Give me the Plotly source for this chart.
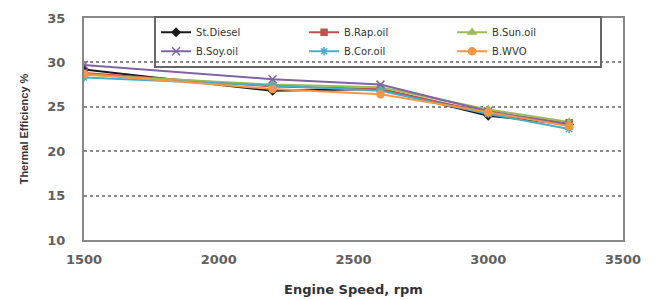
import plotly.graph_objects as go

speed = [1500, 2200, 2600, 3000, 3300]
st_diesel = [29.2, 26.8, 27.0, 24.0, 23.0]
b_rap = [28.8, 27.3, 27.0, 24.3, 23.2]
b_sun = [28.6, 27.5, 27.2, 24.7, 23.3]
b_soy = [29.7, 28.1, 27.5, 24.5, 23.0]
b_cor = [28.3, 27.4, 26.8, 24.2, 22.5]
b_wvo = [28.7, 27.0, 26.4, 24.4, 22.8]

series = [
    ("St.Diesel", st_diesel, "#1a1a1a", "diamond", 6),
    ("B.Rap.oil", b_rap, "#C0504D", "square", 6),
    ("B.Sun.oil", b_sun, "#9BBB59", "triangle-up", 7),
    ("B.Soy.oil", b_soy, "#8064A2", "x-thin-open", 8),
    ("B.Cor.oil", b_cor, "#4BACC6", "asterisk-open", 7),
    ("B.WVO", b_wvo, "#F79646", "circle", 7),
]

fig = go.Figure()
for name, vals, color, sym, size in series:
    fig.add_trace(go.Scatter(
        x=speed, y=vals, name=name, mode="lines+markers",
        line=dict(color=color, width=2),
        marker=dict(symbol=sym, size=size, color=color,
                    line=dict(color=color, width=1.5)),
    ))

tick_font = dict(family="DejaVu Sans", size=13, color="#606060", weight="bold")

fig.update_layout(
    width=656, height=300,
    margin=dict(l=76, r=41, t=8, b=68),
    paper_bgcolor="white", plot_bgcolor="white",
    font=dict(family="DejaVu Sans", color="#333333"),
    showlegend=True,
    legend=dict(
        orientation="h", x=0.13, y=1.01, xanchor="left", yanchor="top",
        bgcolor="rgba(255,255,255,0)", bordercolor="#666666", borderwidth=2,
        entrywidth=103, entrywidthmode="pixels",
        font=dict(family="DejaVu Sans", size=10, color="#333333"),
        tracegroupgap=0,
    ),
    xaxis=dict(
        range=[1500, 3500], dtick=500, tick0=1500,
        showgrid=False, zeroline=False, automargin=False,
        showline=True, linecolor="#888888", linewidth=2, mirror=True,
        ticks="", ticklabelstandoff=6, ticklabeloverflow="allow",
        tickfont=tick_font,
        title=dict(text="Engine Speed, rpm", standoff=19,
                   font=dict(family="DejaVu Sans", size=13, color="#333333", weight="bold")),
    ),
    yaxis=dict(
        range=[10, 35], dtick=5, tick0=10,
        showgrid=True, gridcolor="#8a8a8a", gridwidth=1.5, griddash="dot",
        zeroline=False, automargin=False,
        showline=True, linecolor="#888888", linewidth=2, mirror=True,
        ticks="", ticklabelstandoff=14, ticklabeloverflow="allow",
        tickfont=tick_font,
        title=dict(text="Thermal Efficiency %", standoff=16,
                   font=dict(family="Liberation Sans", size=11, color="#333333", weight="bold")),
    ),
)

fig.write_html("out.html")
